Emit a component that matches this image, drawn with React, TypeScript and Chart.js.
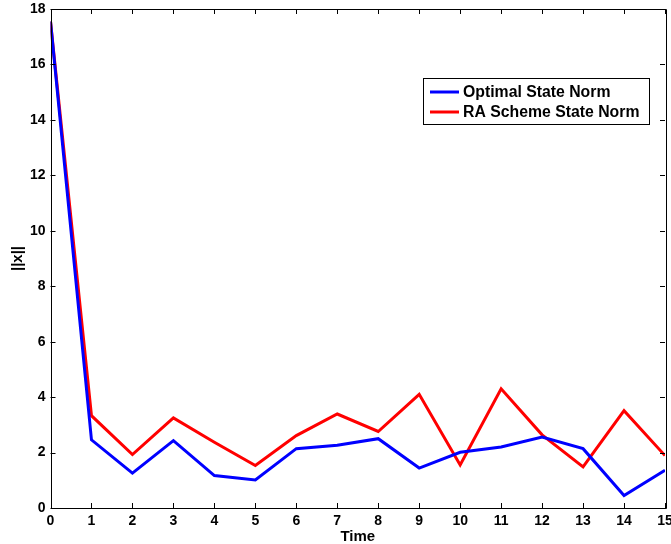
import React, { useEffect, useRef } from "react";
import { Chart, registerables } from "chart.js";

Chart.register(...registerables);

const timeSteps = [0, 1, 2, 3, 4, 5, 6, 7, 8, 9, 10, 11, 12, 13, 14, 15];
const optimalNorm = [17.55, 2.46, 1.26, 2.43, 1.17, 1.01, 2.14, 2.26, 2.5, 1.44, 2.01, 2.2, 2.56, 2.14, 0.45, 1.36];
const raSchemeNorm = [17.55, 3.33, 1.93, 3.25, 2.37, 1.53, 2.61, 3.39, 2.76, 4.1, 1.55, 4.3, 2.64, 1.48, 3.51, 1.89];
const seriesLabels = ["Optimal State Norm", "RA Scheme State Norm"];
const xTitle = "Time";
const yTitle = "||x||";

const FONT = "'Liberation Sans', Arial, sans-serif";

const boxPlugin = {
  id: "matlabBox",
  afterDraw(chart: any) {
    const { ctx, chartArea, scales } = chart;
    const { left, right, top, bottom } = chartArea;
    ctx.save();
    ctx.strokeStyle = "#000";
    ctx.lineWidth = 1;
    ctx.beginPath();
    ctx.rect(Math.round(left) + 0.5, Math.round(top) + 0.5, Math.round(right - left), Math.round(bottom - top));
    ctx.stroke();
    const tl = 5;
    ctx.beginPath();
    scales.x.ticks.forEach((t: any) => {
      const px = Math.round(scales.x.getPixelForValue(t.value)) + 0.5;
      ctx.moveTo(px, bottom);
      ctx.lineTo(px, bottom - tl);
      ctx.moveTo(px, top);
      ctx.lineTo(px, top + tl);
    });
    scales.y.ticks.forEach((t: any) => {
      const py = Math.round(scales.y.getPixelForValue(t.value)) + 0.5;
      ctx.moveTo(left, py);
      ctx.lineTo(left + tl, py);
      ctx.moveTo(right, py);
      ctx.lineTo(right - tl, py);
    });
    ctx.stroke();

    // legend
    const lx = 423.5, ly = 78.5, lw = 226, lh = 46;
    ctx.fillStyle = "#fff";
    ctx.fillRect(lx, ly, lw, lh);
    ctx.strokeRect(lx, ly, lw, lh);
    ctx.font = `bold 15.8px ${FONT}`;
    ctx.textBaseline = "middle";
    ctx.textAlign = "left";
    chart.data.datasets.forEach((ds: any, i: number) => {
      const y = 92 + i * 20;
      ctx.strokeStyle = ds.borderColor;
      ctx.lineWidth = 3;
      ctx.beginPath();
      ctx.moveTo(430, y);
      ctx.lineTo(459, y);
      ctx.stroke();
      ctx.fillStyle = "#000";
      ctx.fillText(ds.label, 463, y + 1);
    });
    ctx.restore();
  },
};

export default function App() {
  const ref = useRef<HTMLCanvasElement>(null);
  useEffect(() => {
    if (!ref.current) return;
    const chart = new Chart(ref.current, {
      type: "line",
      data: {
        labels: timeSteps,
        datasets: [
          {
            label: seriesLabels[0],
            data: timeSteps.map((t, i) => ({ x: t, y: optimalNorm[i] })),
            borderColor: "#0000ff",
            backgroundColor: "#0000ff",
            borderWidth: 3,
            pointRadius: 0,
            tension: 0,
          },
          {
            label: seriesLabels[1],
            data: timeSteps.map((t, i) => ({ x: t, y: raSchemeNorm[i] })),
            borderColor: "#ff0000",
            backgroundColor: "#ff0000",
            borderWidth: 3,
            pointRadius: 0,
            tension: 0,
          },
        ],
      },
      options: {
        animation: false,
        responsive: false,
        maintainAspectRatio: false,
        layout: { padding: { left: 0, top: 9, right: 15, bottom: 0 } },
        plugins: { legend: { display: false }, tooltip: { enabled: false } },
        scales: {
          x: {
            type: "linear",
            min: 0,
            max: 15,
            grid: { display: false, drawTicks: false },
            border: { display: false },
            ticks: {
              stepSize: 1,
              autoSkip: false,
              maxRotation: 0,
              padding: 5,
              color: "#000",
              font: { family: FONT, size: 14, weight: "bold" },
            },
            title: {
              display: true,
              text: xTitle,
              color: "#000",
              padding: { top: -2, bottom: -2 },
              font: { family: FONT, size: 15, weight: "bold" },
            },
            afterFit: (s: any) => {
              s.height = 36;
              s.paddingLeft = 0;
              s.paddingRight = 0;
            },
          },
          y: {
            min: 0,
            max: 18,
            grid: { display: false, drawTicks: false },
            border: { display: false },
            ticks: {
              stepSize: 2,
              padding: 5,
              color: "#000",
              font: { family: FONT, size: 14, weight: "bold" },
            },
            title: {
              display: true,
              text: yTitle,
              color: "#000",
              padding: { top: 9, bottom: 0 },
              font: { family: FONT, size: 15, weight: "bold" },
            },
            afterFit: (s: any) => {
              s.width = 50.5;
              s.paddingTop = 0;
              s.paddingBottom = 0;
            },
          },
        },
      },
      plugins: [boxPlugin],
    });
    return () => chart.destroy();
  }, []);
  return (
    <div style={{ position: "fixed", left: 0, top: 0, width: 671, height: 544, overflow: "hidden", background: "#fff" }}>
      <canvas ref={ref} width={680} height={544} style={{ width: 680, height: 544 }} />
    </div>
  );
}
